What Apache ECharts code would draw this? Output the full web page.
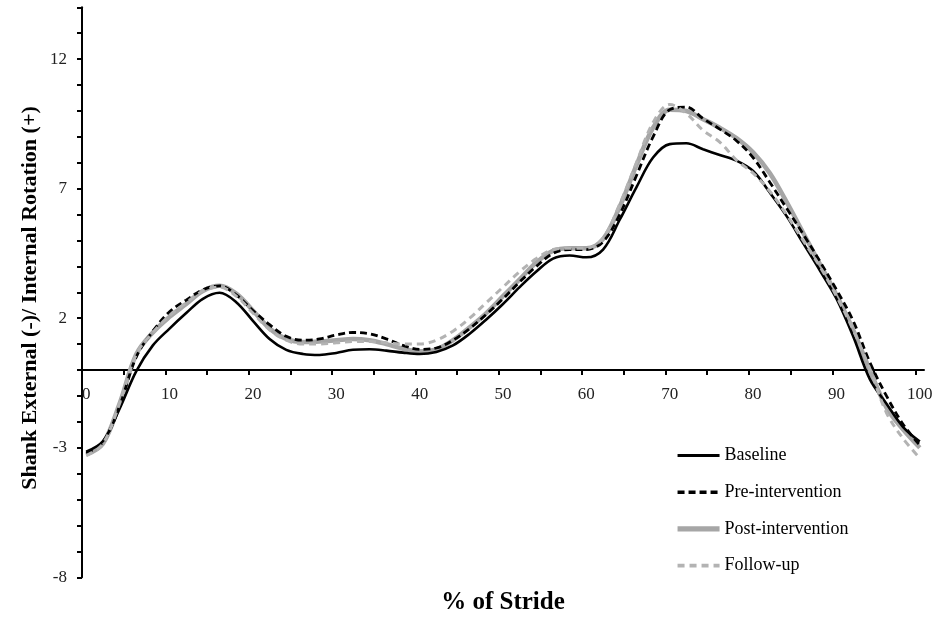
<!DOCTYPE html>
<html>
<head>
<meta charset="utf-8">
<script src="https://cdn.jsdelivr.net/npm/echarts@6/dist/echarts.min.js"></script>
<style>
  html, body { margin: 0; padding: 0; background: #fff; }
  #chart { width: 938px; height: 618px; }
</style>
</head>
<body>
<div id="chart"></div>
<script>
// % of stride sample positions
const stride = [0, 2, 4, 6, 8, 10, 12, 14, 16, 18, 20, 22, 24, 26, 28, 30, 32, 34, 36, 38, 40,
  42, 44, 46, 48, 50, 52, 54, 56, 58, 60, 62, 64, 66, 68, 70, 72, 74, 76, 78, 80,
  82, 84, 86, 88, 90, 92, 94, 96, 98, 100];

// Shank rotation (deg), external (-) / internal (+)
const baseline = [-3.15, -2.75, -1.5, -0.05, 0.95, 1.6, 2.2, 2.75, 2.98, 2.62, 1.9,
  1.2, 0.78, 0.62, 0.58, 0.66, 0.78, 0.8, 0.75, 0.67, 0.62,
  0.7, 0.95, 1.4, 1.95, 2.55, 3.2, 3.8, 4.3, 4.42, 4.35,
  4.65, 5.8, 7.05, 8.2, 8.72, 8.75, 8.52, 8.3, 8.08, 7.68,
  6.85, 5.95, 4.9, 3.85, 2.75, 1.3, -0.35, -1.3, -2.2, -2.76];
const preIntervention = [-3.2, -2.8, -1.4, 0.5, 1.5, 2.25, 2.7, 3.1, 3.25, 2.9, 2.3,
  1.75, 1.3, 1.15, 1.2, 1.35, 1.45, 1.4, 1.2, 0.95, 0.8,
  0.85, 1.15, 1.6, 2.15, 2.75, 3.4, 4.0, 4.5, 4.65, 4.65,
  4.95, 6.0, 7.5, 9.0, 10.05, 10.15, 9.7, 9.3, 8.85, 8.2,
  7.25, 6.25, 5.25, 4.2, 3.1, 1.9, 0.3, -1.0, -2.1, -2.9];
const postIntervention = [-3.27, -2.85, -1.3, 0.6, 1.45, 2.05, 2.55, 3.05, 3.25, 2.95, 2.3,
  1.6, 1.2, 1.08, 1.1, 1.15, 1.2, 1.15, 1.0, 0.82, 0.72,
  0.8, 1.15, 1.65, 2.2, 2.85, 3.5, 4.15, 4.6, 4.7, 4.7,
  5.05, 6.3, 7.9, 9.35, 10.05, 10.0, 9.68, 9.35, 8.95, 8.4,
  7.6, 6.5, 5.3, 4.1, 2.9, 1.55, 0.0, -1.45, -2.3, -3.0];
const followUp = [-3.3, -2.85, -1.3, 0.6, 1.45, 2.1, 2.6, 3.05, 3.2, 2.85, 2.2,
  1.55, 1.15, 1.0, 1.0, 1.05, 1.1, 1.1, 1.05, 1.0, 1.0,
  1.15, 1.5, 2.0, 2.6, 3.2, 3.8, 4.3, 4.65, 4.7, 4.7,
  5.1, 6.4, 8.0, 9.55, 10.25, 9.9, 9.25, 8.8, 8.1, 7.6,
  6.9, 6.0, 5.0, 4.0, 2.85, 1.55, 0.05, -1.65, -2.65, -3.4];

// Axis tick / label positions
const xTickValues = [-0.5, 4.5, 9.5, 14.5, 19.5, 24.5, 29.5, 34.5, 39.5, 44.5, 49.5,
  54.5, 59.5, 64.5, 69.5, 74.5, 79.5, 84.5, 89.5, 94.5, 99.5];
const xLabelValues = [0, 10, 20, 30, 40, 50, 60, 70, 80, 90, 100];
const yLabelValues = [-8, -3, 2, 7, 12];

const seriesNames = ['Baseline', 'Pre-intervention', 'Post-intervention', 'Follow-up'];
const serif = '"Liberation Serif", "Times New Roman", serif';

// Per-series line styles
const styles = {
  'Baseline':          { color: '#000000', width: 2.6, type: 'solid', z: 3 },
  'Pre-intervention':  { color: '#000000', width: 2.8, type: [7, 4], z: 4 },
  'Post-intervention': { color: '#a6a6a6', width: 4.5, type: 'solid', z: 2 },
  'Follow-up':         { color: '#b3b3b3', width: 3, type: [7, 5], z: 5 }
};

const pairs = arr => stride.map((x, i) => [x, arr[i]]);

function lineSeries(name, values) {
  const s = styles[name];
  return {
    name: name,
    type: 'line',
    data: pairs(values),
    smooth: 0.35,
    showSymbol: false,
    symbol: 'none',
    z: s.z,
    lineStyle: { color: s.color, width: s.width, type: s.type, cap: 'butt' },
    itemStyle: { color: s.color },
    emphasis: { disabled: true }
  };
}

const gridTop = 7.3, gridBottom = 40.7, chartH = 618;
const yMin = -8, yMax = 14;
// Pixel distance between the grid bottom edge and the zero line, used to keep
// the category labels just under the zero-crossing axis line.
const zeroLift = (chartH - gridTop - gridBottom) * (0 - yMin) / (yMax - yMin);

const chart = echarts.init(document.getElementById('chart'), null, { renderer: 'canvas' });

chart.setOption({
  animation: false,
  backgroundColor: '#ffffff',
  grid: { left: 82, right: 14, top: gridTop, bottom: gridBottom, containLabel: false },
  xAxis: {
    type: 'value',
    min: -0.5,
    max: 100.5,
    axisLine: { onZero: true, lineStyle: { color: '#000', width: 2 } },
    axisTick: {
      show: true, inside: false, length: 5,
      customValues: xTickValues,
      lineStyle: { color: '#000', width: 2 }
    },
    axisLabel: {
      customValues: xLabelValues,
      margin: 16 - zeroLift,
      fontFamily: serif,
      fontSize: 17,
      color: '#222'
    },
    splitLine: { show: false }
  },
  yAxis: {
    type: 'value',
    min: yMin,
    max: yMax,
    interval: 1,
    axisLine: { show: true, onZero: false, lineStyle: { color: '#000', width: 2 } },
    axisTick: { show: true, inside: false, length: 5, lineStyle: { color: '#000', width: 2 } },
    axisLabel: {
      margin: 15,
      fontFamily: serif,
      fontSize: 17,
      color: '#222',
      formatter: v => (yLabelValues.indexOf(v) >= 0 ? String(v) : '')
    },
    splitLine: { show: false }
  },
  legend: {
    data: seriesNames.map(n => ({
      name: n,
      itemStyle: { opacity: 0 },
      lineStyle: { color: styles[n].color, width: styles[n].width + 0.6, type: styles[n].type }
    })),
    orient: 'vertical',
    left: 675,
    top: 446.5,
    padding: 0,
    itemWidth: 42,
    itemHeight: 14,
    itemGap: 18.7,
    selectedMode: false,
    textStyle: { fontFamily: serif, fontSize: 18, color: '#000', lineHeight: 18 }
  },
  graphic: [
    {
      type: 'text',
      x: 30.5,
      y: 298,
      rotation: Math.PI / 2,
      style: {
        text: 'Shank External (-)/ Internal Rotation (+)',
        font: 'bold 22px ' + serif,
        fill: '#000',
        align: 'center',
        verticalAlign: 'middle'
      }
    },
    {
      type: 'text',
      x: 503,
      y: 602.5,
      style: {
        text: '% of Stride',
        font: 'bold 25px ' + serif,
        fill: '#000',
        align: 'center',
        verticalAlign: 'middle'
      }
    }
  ],
  series: [
    lineSeries('Post-intervention', postIntervention),
    lineSeries('Baseline', baseline),
    lineSeries('Pre-intervention', preIntervention),
    lineSeries('Follow-up', followUp)
  ]
});
</script>
</body>
</html>
